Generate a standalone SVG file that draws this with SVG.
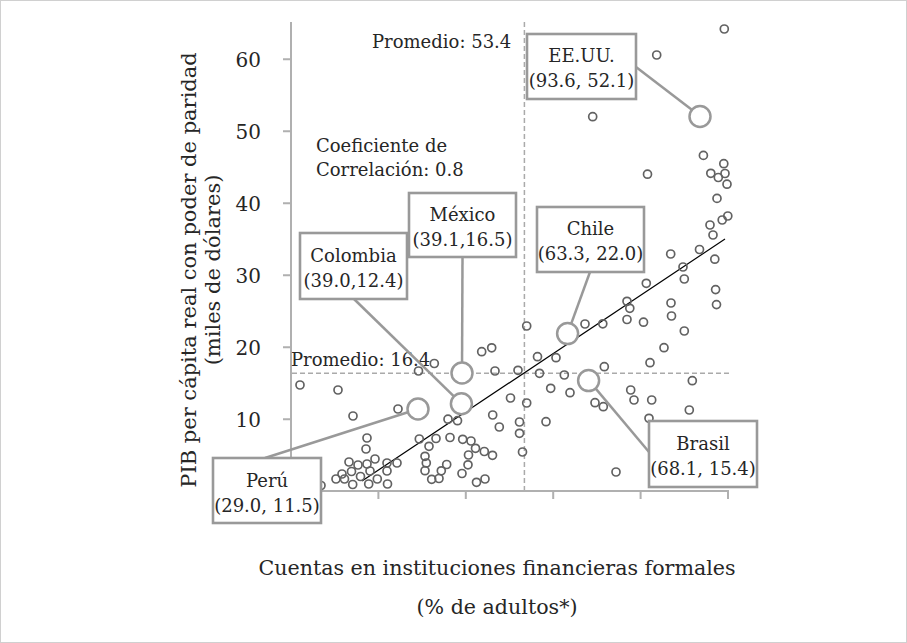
<svg xmlns="http://www.w3.org/2000/svg" width="907" height="643" viewBox="0 0 907 643">
<style>
text{font-family:"DejaVu Serif","Liberation Serif",serif;fill:#262626}
.t18{font-size:18px}
.t20{font-size:20px}
.t21{font-size:21px}
.t205{font-size:20.6px}
.ax{stroke:#b0b0b0;stroke-width:2;fill:none}
.dash{stroke:#aaa;stroke-width:1.5;stroke-dasharray:5 3;fill:none}
.pt{fill:none;stroke:#626262;stroke-width:1.7}
.big{fill:#fff;stroke:#999;stroke-width:2.5}
.box{fill:#fff;stroke:#999;stroke-width:2.6}
.con{stroke:#999;stroke-width:2.5;fill:none}
.mid{text-anchor:middle}
</style>
<rect x="0.5" y="0.5" width="906" height="642" fill="#fff" stroke="#d0d0d0"/>
<g id="axes">
<line class="ax" x1="291" y1="22" x2="291" y2="491"/>
<line class="ax" x1="290" y1="491" x2="729" y2="491"/>
<path class="ax" d="M283 59.3H291M283 131.3H291M283 203.3H291M283 275.3H291M283 347.3H291M283 419.3H291M378.4 491V499M465.8 491V499M553.2 491V499M640.6 491V499M728 491V499"/>
<g class="t20" text-anchor="end">
<text x="261" y="67">60</text>
<text x="261" y="139">50</text>
<text x="261" y="211">40</text>
<text x="261" y="283">30</text>
<text x="261" y="355">20</text>
<text x="261" y="427">10</text>
</g>
<text class="t21 mid" transform="translate(196,270) rotate(-90)">PIB per cápita real con poder de paridad</text>
<text class="t21 mid" transform="translate(220,270) rotate(-90)">(miles de dólares)</text>
<text class="t205 mid" x="497" y="575">Cuentas en instituciones financieras formales</text>
<text class="t205 mid" x="497" y="614">(% de adultos*)</text>
</g>
<g id="averages">
<line class="dash" x1="524.4" y1="22" x2="524.4" y2="490"/>
<line class="dash" x1="292" y1="373.2" x2="730" y2="373.2"/>
<text class="t18" x="372" y="48">Promedio: 53.4</text>
<text class="t18" x="291" y="366">Promedio: 16.4</text>
<text class="t18" x="316" y="152">Coeficiente de</text>
<text class="t18" x="316" y="176">Correlación: 0.8</text>
</g>
<g id="trend">
<line x1="362" y1="481" x2="725" y2="239" stroke="#000" stroke-width="1.2"/>
</g>
<g id="points">
<circle class="pt" cx="300" cy="385" r="4"/>
<circle class="pt" cx="338" cy="390" r="4"/>
<circle class="pt" cx="353" cy="416" r="4"/>
<circle class="pt" cx="398" cy="409" r="4"/>
<circle class="pt" cx="367" cy="438" r="4"/>
<circle class="pt" cx="366" cy="449" r="4"/>
<circle class="pt" cx="349" cy="462" r="4"/>
<circle class="pt" cx="358" cy="465" r="4"/>
<circle class="pt" cx="367" cy="464" r="4"/>
<circle class="pt" cx="375" cy="459" r="4"/>
<circle class="pt" cx="387" cy="463" r="4"/>
<circle class="pt" cx="397" cy="463" r="4"/>
<circle class="pt" cx="342" cy="474" r="4"/>
<circle class="pt" cx="351.5" cy="471.5" r="4"/>
<circle class="pt" cx="360.5" cy="476.5" r="4"/>
<circle class="pt" cx="370" cy="471" r="4"/>
<circle class="pt" cx="387" cy="471" r="4"/>
<circle class="pt" cx="336" cy="479" r="4"/>
<circle class="pt" cx="344.5" cy="479" r="4"/>
<circle class="pt" cx="352.7" cy="484.5" r="4"/>
<circle class="pt" cx="368.7" cy="484" r="4"/>
<circle class="pt" cx="377.3" cy="479" r="4"/>
<circle class="pt" cx="387.5" cy="484" r="4"/>
<circle class="pt" cx="321" cy="485.5" r="4"/>
<circle class="pt" cx="418.5" cy="371" r="4"/>
<circle class="pt" cx="434.3" cy="363.5" r="4"/>
<circle class="pt" cx="481.7" cy="351.7" r="4"/>
<circle class="pt" cx="491.7" cy="347.8" r="4"/>
<circle class="pt" cx="495" cy="371" r="4"/>
<circle class="pt" cx="448" cy="419.2" r="4"/>
<circle class="pt" cx="457.5" cy="420.7" r="4"/>
<circle class="pt" cx="419.3" cy="439" r="4"/>
<circle class="pt" cx="436" cy="438.5" r="4"/>
<circle class="pt" cx="450" cy="437.5" r="4"/>
<circle class="pt" cx="462.7" cy="439.3" r="4"/>
<circle class="pt" cx="471" cy="441" r="4"/>
<circle class="pt" cx="429" cy="446.3" r="4"/>
<circle class="pt" cx="475.5" cy="448.3" r="4"/>
<circle class="pt" cx="484.3" cy="451.5" r="4"/>
<circle class="pt" cx="492.5" cy="455.3" r="4"/>
<circle class="pt" cx="425" cy="456.3" r="4"/>
<circle class="pt" cx="468.5" cy="455" r="4"/>
<circle class="pt" cx="426.3" cy="463" r="4"/>
<circle class="pt" cx="446.7" cy="464.5" r="4"/>
<circle class="pt" cx="468" cy="464.8" r="4"/>
<circle class="pt" cx="425" cy="470.7" r="4"/>
<circle class="pt" cx="441.3" cy="470.8" r="4"/>
<circle class="pt" cx="462" cy="473.5" r="4"/>
<circle class="pt" cx="431.7" cy="479.3" r="4"/>
<circle class="pt" cx="439" cy="478.5" r="4"/>
<circle class="pt" cx="476.5" cy="482.3" r="4"/>
<circle class="pt" cx="485" cy="479" r="4"/>
<circle class="pt" cx="526.7" cy="326" r="4"/>
<circle class="pt" cx="492.7" cy="415" r="4"/>
<circle class="pt" cx="499.3" cy="427" r="4"/>
<circle class="pt" cx="519.5" cy="422" r="4"/>
<circle class="pt" cx="519.5" cy="433.3" r="4"/>
<circle class="pt" cx="522.5" cy="452" r="4"/>
<circle class="pt" cx="510.5" cy="398" r="4"/>
<circle class="pt" cx="526.7" cy="403" r="4"/>
<circle class="pt" cx="518" cy="370.3" r="4"/>
<circle class="pt" cx="537.5" cy="356.7" r="4"/>
<circle class="pt" cx="556" cy="357.7" r="4"/>
<circle class="pt" cx="539.5" cy="373.3" r="4"/>
<circle class="pt" cx="564.3" cy="375" r="4"/>
<circle class="pt" cx="550.7" cy="388.3" r="4"/>
<circle class="pt" cx="570" cy="392.7" r="4"/>
<circle class="pt" cx="546" cy="421.7" r="4"/>
<circle class="pt" cx="585" cy="324" r="4"/>
<circle class="pt" cx="602.8" cy="323.8" r="4"/>
<circle class="pt" cx="604.3" cy="366.7" r="4"/>
<circle class="pt" cx="595" cy="402.7" r="4"/>
<circle class="pt" cx="603.3" cy="406.7" r="4"/>
<circle class="pt" cx="616" cy="472" r="4"/>
<circle class="pt" cx="630.7" cy="390" r="4"/>
<circle class="pt" cx="634" cy="400" r="4"/>
<circle class="pt" cx="651.7" cy="400" r="4"/>
<circle class="pt" cx="649" cy="418.3" r="4"/>
<circle class="pt" cx="650" cy="362.7" r="4"/>
<circle class="pt" cx="664" cy="347.7" r="4"/>
<circle class="pt" cx="689.3" cy="410" r="4"/>
<circle class="pt" cx="692.3" cy="380.7" r="4"/>
<circle class="pt" cx="627" cy="301.3" r="4"/>
<circle class="pt" cx="629.8" cy="308.3" r="4"/>
<circle class="pt" cx="627" cy="319.5" r="4"/>
<circle class="pt" cx="643.5" cy="322.2" r="4"/>
<circle class="pt" cx="646.3" cy="283.3" r="4"/>
<circle class="pt" cx="670.7" cy="254" r="4"/>
<circle class="pt" cx="671" cy="303" r="4"/>
<circle class="pt" cx="671.5" cy="316" r="4"/>
<circle class="pt" cx="684.3" cy="331" r="4"/>
<circle class="pt" cx="683" cy="267" r="4"/>
<circle class="pt" cx="684.3" cy="279" r="4"/>
<circle class="pt" cx="699.5" cy="249.5" r="4"/>
<circle class="pt" cx="714.8" cy="259.2" r="4"/>
<circle class="pt" cx="715.6" cy="289.6" r="4"/>
<circle class="pt" cx="716.5" cy="304.6" r="4"/>
<circle class="pt" cx="724.3" cy="29" r="4"/>
<circle class="pt" cx="656.7" cy="55" r="4"/>
<circle class="pt" cx="592.7" cy="116.7" r="4"/>
<circle class="pt" cx="647.5" cy="174.2" r="4"/>
<circle class="pt" cx="703.4" cy="155.4" r="4"/>
<circle class="pt" cx="723.8" cy="163.7" r="4"/>
<circle class="pt" cx="710.8" cy="173.3" r="4"/>
<circle class="pt" cx="718.3" cy="177.5" r="4"/>
<circle class="pt" cx="725" cy="173.5" r="4"/>
<circle class="pt" cx="727" cy="184.2" r="4"/>
<circle class="pt" cx="717" cy="198.4" r="4"/>
<circle class="pt" cx="722.2" cy="220" r="4"/>
<circle class="pt" cx="727.8" cy="216" r="4"/>
<circle class="pt" cx="710" cy="225" r="4"/>
<circle class="pt" cx="713" cy="235" r="4"/>
</g>
<g id="connectors">
<line class="con" x1="265" y1="458" x2="418" y2="409"/>
<line class="con" x1="354" y1="299" x2="461.4" y2="403.7"/>
<line class="con" x1="462.5" y1="257" x2="462" y2="373"/>
<line class="con" x1="590" y1="272" x2="567.6" y2="333.6"/>
<line class="con" x1="649" y1="452" x2="588.6" y2="380.1"/>
<line class="con" x1="636" y1="67" x2="700" y2="116"/>
</g>
<g id="peru">
<circle class="big" cx="418" cy="409" r="10.5"/>
<rect class="box" x="213" y="458" width="108" height="65"/>
<text class="t18 mid" x="267" y="487">Perú</text>
<text class="t18 mid" x="267" y="512">(29.0, 11.5)</text>
</g>
<g id="colombia">
<circle class="big" cx="461.4" cy="403.7" r="10.5"/>
<rect class="box" x="300" y="233" width="107" height="66"/>
<text class="t18 mid" x="353.5" y="262">Colombia</text>
<text class="t18 mid" x="353.5" y="287">(39.0,12.4)</text>
</g>
<g id="mexico">
<circle class="big" cx="462" cy="373" r="10.5"/>
<rect class="box" x="409" y="193" width="107" height="64"/>
<text class="t18 mid" x="462.5" y="221">México</text>
<text class="t18 mid" x="462.5" y="246">(39.1,16.5)</text>
</g>
<g id="chile">
<circle class="big" cx="567.6" cy="333.6" r="10.5"/>
<rect class="box" x="537" y="207" width="107" height="65"/>
<text class="t18 mid" x="590.5" y="235">Chile</text>
<text class="t18 mid" x="590.5" y="260">(63.3, 22.0)</text>
</g>
<g id="brasil">
<circle class="big" cx="588.6" cy="380.6" r="10.5"/>
<rect class="box" x="649" y="421" width="108" height="66"/>
<text class="t18 mid" x="703" y="450">Brasil</text>
<text class="t18 mid" x="703" y="475">(68.1, 15.4)</text>
</g>
<g id="eeuu">
<circle class="big" cx="700" cy="116.5" r="10.5"/>
<rect class="box" x="527" y="34" width="109" height="65"/>
<text class="t18 mid" x="581.5" y="62">EE.UU.</text>
<text class="t18 mid" x="581.5" y="87">(93.6, 52.1)</text>
</g>
</svg>
